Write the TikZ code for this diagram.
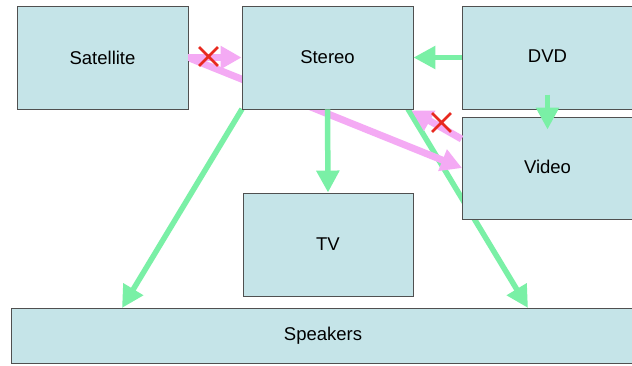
\documentclass[tikz,border=0pt]{standalone}
\usepackage{fontspec}
\setmainfont{Liberation Sans}
\usetikzlibrary{arrows.meta,shapes.misc}
\definecolor{boxfill}{HTML}{C5E4E8}
\definecolor{boxline}{HTML}{505050}
\definecolor{linkgreen}{HTML}{7AF0A6}
\definecolor{linkpink}{HTML}{F4AAF4}
\definecolor{markred}{HTML}{E8291F}
\tikzset{
  unit/.style={draw=boxline, line width=0.9pt, fill=boxfill, inner sep=0pt,
    font=\fontsize{18.5}{20}\selectfont},
  greenlink/.style={draw=linkgreen, line width=5.5pt,
    -{Triangle[width=22pt,length=22pt]}},
  pinklink/.style={draw=linkpink, line width=7pt,
    -{Triangle[width=22pt,length=21pt]}},
  blocked/.style={cross out, draw=markred, line width=2.8pt,
    minimum size=16pt, inner sep=0pt}
}
\begin{document}
\begin{tikzpicture}[x=1pt,y=-1pt]
\useasboundingbox (0,0) rectangle (632,365);
\clip (0,0) rectangle (632,365);
\fill[white] (0,0) rectangle (632,365);

% anchor points of the units, named before they are drawn
\path (102.5,57.5) coordinate (satC)
      (327.5,57.5) coordinate (steC)
      (547.5,57.5) coordinate (dvdC)
      (547.5,168)  coordinate (vidC)
      (328,244.5)  coordinate (tvC)
      (323,335.5)  coordinate (spkC)
      (122,308)    coordinate (spkL)
      (528,308)    coordinate (spkR);

% links that run behind the units
\path (satC) ++(85.5,0) coordinate (satE);
\path (vidC) ++(-85.5,0) coordinate (vidW);
\path (steC) ++(-85.5,51.5) coordinate (steSW);
\path (steC) ++(80.5,51.5) coordinate (steSEi);
\draw[greenlink] (steSW) -- (spkL);
\draw[greenlink] (steSEi) -- (spkR);
\draw[pinklink] (satE) -- (vidW);

% the units
\node[unit, minimum width=171pt, minimum height=103pt] (sat) at (satC) {Satellite};
\node[unit, minimum width=171pt, minimum height=103pt] (ste) at (steC) {Stereo};
\node[unit, minimum width=171pt, minimum height=103pt] (dvd) at (dvdC) {\raisebox{3pt}{DVD}};
\node[unit, minimum width=171pt, minimum height=102pt] (vid) at (vidC) {\raisebox{3pt}{Video}};
\node[unit, minimum width=170pt, minimum height=103pt] (tv) at (tvC) {TV};
\node[unit, minimum width=624pt, minimum height=55pt] (spk) at (spkC) {Speakers};

% links drawn over the units
\draw[pinklink] (sat.east) -- (ste.west);
\draw[greenlink] (dvd.west) -- (ste.east);
\draw[greenlink] ([yshift=-37pt]dvd.center) -- ([yshift=-13pt]vid.north);
\draw[greenlink] (ste.south) -- (tv.north);
\draw[pinklink] ([yshift=29pt]vid.west) -- ([xshift=-2pt,yshift=-1pt]ste.south east);

% blocked connections
\node[blocked] (x1) at (208.5,56.5) {};
\node[blocked] (x2) at (441.5,122.5) {};
\end{tikzpicture}
\end{document}
